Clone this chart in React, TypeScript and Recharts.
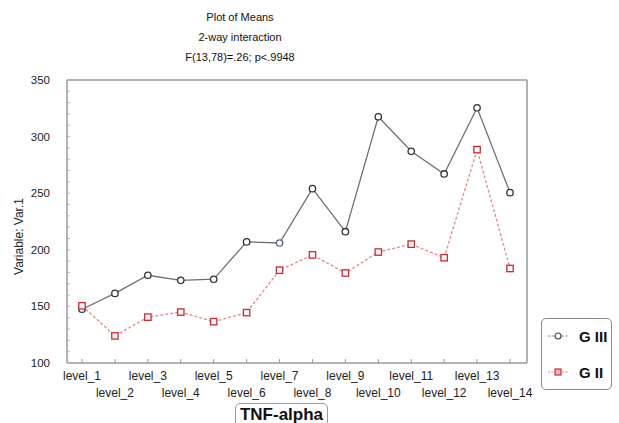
import React from 'react';
import { LineChart, Line, XAxis, YAxis, Legend } from 'recharts';

const levels = ['level_1', 'level_2', 'level_3', 'level_4', 'level_5', 'level_6', 'level_7', 'level_8', 'level_9', 'level_10', 'level_11', 'level_12', 'level_13', 'level_14'];
const gIII = [147.5, 161.5, 177.5, 173, 174, 207, 206, 254, 216, 317.5, 287, 267, 325.5, 250.5];
const gII = [150.5, 124, 140.5, 145, 136.5, 144.5, 182, 195.5, 179.5, 198, 205, 193, 288.5, 183.5];
const yTicks = [100, 110, 120, 130, 140, 150, 160, 170, 180, 190, 200, 210, 220, 230, 240, 250, 260, 270, 280, 290, 300, 310, 320, 330, 340, 350];
const titleLines = ['Plot of Means', '2-way interaction', 'F(13,78)=.26; p<.9948'];
const seriesNames = ['G III', 'G II'];

const data = levels.map((l, i) => ({ level: l, g3: gIII[i], g2: gII[i] }));

const FONT = '"Liberation Sans", Arial, sans-serif';
const AXIS = '#9a9a9a';

const CircleDot = (props: any) => {
  const { cx, cy, index } = props;
  if (cx == null || cy == null) return null;
  return <circle cx={cx} cy={cy} r={3.2} fill="#fff" stroke={index === 6 ? '#5a5f9a' : '#333'} strokeWidth={1.3} />;
};

const SquareDot = (props: any) => {
  const { cx, cy } = props;
  if (cx == null || cy == null) return null;
  return <rect x={cx - 3.2} y={cy - 3.2} width={6.4} height={6.4} fill="#fff4f4" stroke="#c0303a" strokeWidth={1.3} />;
};

const XTick = (props: any) => {
  const { x, y, payload, index } = props;
  const dy = index % 2 === 0 ? 16.5 : 33.5;
  return (
    <text x={x} y={y + dy} textAnchor="middle" fontSize={12} fontFamily={FONT} fill="#222">
      {payload.value}
    </text>
  );
};

const YTick = (props: any) => {
  const { x, y, payload } = props;
  if (payload.value % 50 !== 0) return null;
  return (
    <text x={x} y={y + 4} textAnchor="end" fontSize={11.5} fontFamily={FONT} fill="#222">
      {payload.value}
    </text>
  );
};

const LegendContent = () => (
  <div
    style={{
      width: 71,
      height: 72,
      border: '1px solid #8a8a8a',
      borderRadius: 5,
      background: '#fff',
      fontFamily: FONT,
      boxSizing: 'border-box',
      position: 'relative',
    }}
  >
    {seriesNames.map((n, i) => (
      <div key={n} style={{ position: 'absolute', left: 5, top: i === 0 ? 7 : 43, height: 20, display: 'flex', alignItems: 'center' }}>
        <svg width={24} height={20}>
          <line x1={1} x2={21} y1={10} y2={10} stroke={i === 0 ? '#777' : '#e08080'} strokeWidth={1} strokeDasharray={i === 0 ? '2 1.5' : '2 1.5'} />
          {i === 0 ? (
            <circle cx={11} cy={10} r={3} fill="#fff" stroke="#444" strokeWidth={1.2} />
          ) : (
            <rect x={8} y={7} width={6} height={6} fill="#f3b0b8" stroke="#c0303a" strokeWidth={1.2} />
          )}
        </svg>
        <span style={{ fontWeight: 'bold', fontSize: 15, marginLeft: 8, color: '#111' }}>{n}</span>
      </div>
    ))}
  </div>
);

export default function App() {
  return (
    <div style={{ position: 'absolute', left: 0, top: 0, width: 619, height: 423, background: '#fff' }}>
      {titleLines.map((t, i) => (
        <div
          key={t}
          style={{
            position: 'absolute',
            left: 140,
            width: 200,
            top: 10 + i * 20,
            textAlign: 'center',
            fontFamily: FONT,
            fontSize: 11,
            lineHeight: '14px',
            color: '#111',
          }}
        >
          {t}
        </div>
      ))}
      <LineChart width={619} height={423} data={data} margin={{ top: 79, right: 91, bottom: 30, left: 17 }}>
        <XAxis
          dataKey="level"
          interval={0}
          padding={{ left: 15, right: 17 }}
          height={30}
          tickSize={-4}
          tickMargin={4}
          tick={<XTick />}
          stroke={AXIS}
          axisLine={{ stroke: AXIS, strokeWidth: 1.5 }}
          tickLine={{ stroke: AXIS }}
        />
        <XAxis
          xAxisId="top"
          orientation="top"
          dataKey="level"
          interval={0}
          padding={{ left: 15, right: 17 }}
          height={1}
          tickSize={-4}
          tick={false}
          axisLine={{ stroke: AXIS, strokeWidth: 1.5 }}
          tickLine={{ stroke: AXIS }}
        />
        <YAxis
          domain={[100, 350]}
          ticks={yTicks}
          interval={0}
          width={50}
          tickSize={-3}
          tickMargin={20}
          tick={<YTick />}
          axisLine={{ stroke: AXIS, strokeWidth: 1.5 }}
          tickLine={{ stroke: '#b5b5b5' }}
          label={{
            content: (p: any) => {
              const vb = p.viewBox || {};
              const cx = 19;
              const cy = (vb.y ?? 80) + (vb.height ?? 283) / 2 + 15;
              return (
                <text x={cx} y={cy} transform={`rotate(-90 ${cx} ${cy})`} textAnchor="middle" dominantBaseline="central" fontSize={12} fontFamily={FONT} fill="#222">
                  Variable: Var.1
                </text>
              );
            },
          }}
        />
        <YAxis
          yAxisId="right"
          orientation="right"
          domain={[100, 350]}
          ticks={yTicks}
          interval={0}
          width={1}
          tickSize={-3}
          tick={false}
          axisLine={{ stroke: AXIS, strokeWidth: 1.5 }}
          tickLine={{ stroke: '#b5b5b5' }}
        />
        <Legend
          layout="vertical"
          align="center"
          verticalAlign="middle"
          wrapperStyle={{ left: 541, top: 318, width: 73, height: 74 }}
          content={<LegendContent />}
        />
        <Line
          name={seriesNames[0]}
          dataKey="g3"
          type="linear"
          stroke="#707070"
          strokeWidth={1.3}
          dot={<CircleDot />}
          activeDot={false}
          isAnimationActive={false}
        />
        <Line
          name={seriesNames[1]}
          dataKey="g2"
          type="linear"
          stroke="#e08a8a"
          strokeWidth={1.3}
          strokeDasharray="3 2"
          dot={<SquareDot />}
          activeDot={false}
          isAnimationActive={false}
        />
      </LineChart>
      <div
        style={{
          position: 'absolute',
          left: 235,
          top: 403,
          width: 93,
          height: 24,
          border: '1px solid #999',
          borderRadius: 5,
          boxSizing: 'border-box',
          textAlign: 'center',
          fontFamily: FONT,
          fontWeight: 'bold',
          fontSize: 17,
          lineHeight: '21px',
          color: '#111',
        }}
      >
        TNF-alpha
      </div>
    </div>
  );
}
